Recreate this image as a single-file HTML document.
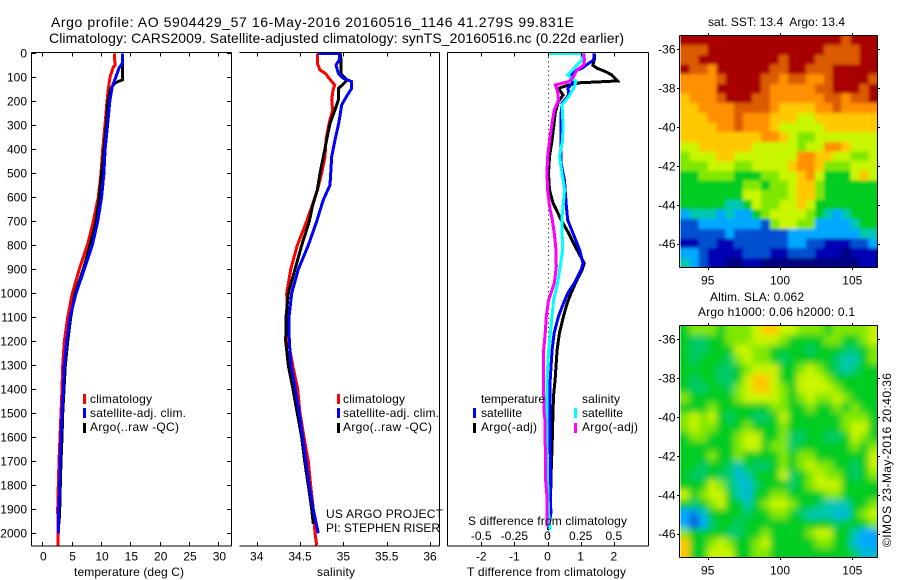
<!DOCTYPE html>
<html>
<head>
<meta charset="utf-8">
<title>Argo profile 5904429_57</title>
<style>
html,body{margin:0;padding:0;background:#fff;}
svg{display:block;}
text{font-family:"Liberation Sans",sans-serif;font-size:12px;fill:#000;}
.t{font-size:14px;}
</style>
</head>
<body>
<svg id="chart" xmlns="http://www.w3.org/2000/svg" width="900" height="580" viewBox="0 0 900 580">
<defs>
<clipPath id="clip-sst"><rect x="680.5" y="35.5" width="197" height="232"/></clipPath>
<clipPath id="clip-sla"><rect x="680.5" y="325.5" width="197" height="232"/></clipPath>
<filter id="soft-sst" filterUnits="userSpaceOnUse" x="640" y="0" width="260" height="300"><feGaussianBlur stdDeviation="1.6"/></filter>
<filter id="soft-sla" filterUnits="userSpaceOnUse" x="640" y="290" width="260" height="290"><feGaussianBlur stdDeviation="3.5"/></filter>
</defs>
<rect x="0" y="0" width="900" height="580" fill="#fff"/>
<g id="maps"></g>
<g id="curves"></g>
<g id="axes"></g>

<text class="t" x="51" y="27" textLength="523">Argo profile: AO 5904429_57 16-May-2016 20160516_1146 41.279S 99.831E</text>
<text class="t" x="49" y="43" textLength="575">Climatology: CARS2009. Satellite-adjusted climatology: synTS_20160516.nc (0.22d earlier)</text>

<text x="74" y="576" textLength="110">temperature (deg C)</text>
<text x="317" y="576" textLength="38">salinity</text>
<text x="467" y="576" textLength="159">T difference from climatology</text>
<text x="468" y="525" textLength="159">S difference from climatology</text>

<rect x="83" y="394" width="3" height="10" fill="#f00"/>
<text x="90" y="403" textLength="62">climatology</text>
<rect x="83" y="408" width="3" height="10" fill="#00f"/>
<text x="90" y="417" textLength="96">satellite-adj. clim.</text>
<rect x="83" y="423" width="3" height="10" fill="#000"/>
<text x="90" y="431" textLength="89">Argo(..raw -QC)</text>

<rect x="337" y="394" width="3" height="10" fill="#f00"/>
<text x="343" y="403" textLength="62">climatology</text>
<rect x="337" y="408" width="3" height="10" fill="#00f"/>
<text x="343" y="417" textLength="96">satellite-adj. clim.</text>
<rect x="337" y="423" width="3" height="10" fill="#000"/>
<text x="343" y="431" textLength="89">Argo(..raw -QC)</text>

<text x="326" y="518" textLength="117">US ARGO PROJECT</text>
<text x="326" y="532" textLength="114">PI: STEPHEN RISER</text>

<text x="481" y="403" textLength="64">temperature</text>
<text x="582" y="403" textLength="38">salinity</text>
<rect x="473" y="408" width="3" height="10" fill="#00f"/>
<text x="481" y="417" textLength="41">satellite</text>
<rect x="473" y="423" width="3" height="10" fill="#000"/>
<text x="481" y="431" textLength="56">Argo(-adj)</text>
<rect x="574" y="408" width="3" height="10" fill="#0ff"/>
<text x="582" y="417" textLength="41">satellite</text>
<rect x="574" y="423" width="3" height="10" fill="#f0f"/>
<text x="582" y="431" textLength="56">Argo(-adj)</text>

<text x="708" y="26" textLength="137">sat. SST: 13.4&#160; Argo: 13.4</text>
<text x="710" y="301" textLength="94">Altim. SLA: 0.062</text>
<text x="698" y="316" textLength="157">Argo h1000: 0.06 h2000: 0.1</text>
<text transform="translate(891,547) rotate(-90)" x="0" y="0" textLength="174">©IMOS 23-May-2016 20:40:36</text>
</svg>

<script>
// ---- profile data (dbar, deg C, PSU) ----
const climTempDepth = [0,50,60,100,150,200,300,400,500,600,700,800,900,1000,1100,1200,1300,1400,1500,1600,1700,1800,1900,2000,2050];
const climTemp = [12.27,12.38,12.05,11.53,11.24,11.02,10.68,10.29,10.0,9.54,8.69,7.67,6.3,5.11,4.33,3.75,3.48,3.36,3.19,3.02,2.85,2.73,2.62,2.67,2.67];
const satTempDepth = [0,40,60,100,140,200,300,400,500,600,700,800,900,1000,1100,1200,1300,1400,1500,1600,1700,1800,1900,2000];
const satTemp = [13.7,13.7,13.1,12.5,11.9,11.5,11.1,10.7,10.5,10.1,9.44,8.52,7.16,5.74,4.72,4.16,3.75,3.58,3.36,3.19,3.02,2.96,2.79,2.73];
const argoTempDepth = [0,110,118,125,150,200,300,400,500,600,700,800,900,1000,1100,1200,1300,1400,1500,1600,1700,1800,1900,1960];
const argoTemp = [13.7,13.7,12.9,12.3,11.6,11.2,10.9,10.5,10.1,9.71,9.15,8.13,6.98,5.57,4.84,4.33,3.92,3.7,3.48,3.36,3.19,3.07,2.96,2.85];

const climSalDepth = [0,42,70,83,111,132,153,195,236,293,361,431,500,570,640,700,800,900,1000,1100,1200,1300,1400,1500,1600,1700,1800,1900,2000,2050];
const climSal = [34.70,34.70,34.73,34.79,34.85,34.90,34.88,34.865,34.877,34.834,34.80,34.788,34.75,34.70,34.635,34.577,34.468,34.392,34.346,34.353,34.365,34.415,34.473,34.50,34.546,34.595,34.623,34.653,34.673,34.692];
const satSalDepth = [0,1,28,49,83,104,118,146,174,215,292,361,431,500,549,611,700,800,900,1000,1100,1200,1300,1400,1500,1600,1700,1800,1900,2000];
const satSal = [34.70,34.953,34.953,34.915,34.941,34.999,35.096,35.096,35.045,34.981,34.946,34.903,34.865,34.854,34.846,34.768,34.692,34.595,34.48,34.404,34.373,34.376,34.396,34.448,34.492,34.531,34.569,34.607,34.653,34.711];
const argoSalDepth = [0,86,111,125,146,195,236,292,361,431,500,570,639,700,800,900,1000,1100,1200,1300,1400,1500,1600,1700,1800,1900,1960];
const argoSal = [34.969,34.973,35.045,35.007,34.946,34.941,34.903,34.846,34.808,34.768,34.73,34.699,34.642,34.607,34.519,34.442,34.365,34.338,34.335,34.365,34.419,34.468,34.519,34.554,34.595,34.635,34.653];

const diffTArgoDepth = [0,21,50,62,76,90,115,120,122,132,146,174,201,250,292,361,431,500,569,625,653,694,750,819,875,903,944,1000,1042,1097,1167,1236,1361,1430,1569,1639,1750,1917,1986];
const diffTArgo = [1.42,1.42,1.37,1.49,1.74,1.94,2.11,1.44,1.01,0.64,0.33,0.47,0.33,0.23,0.20,0.14,0.06,0.03,0.06,0.17,0.27,0.41,0.64,0.89,1.11,1.04,0.89,0.71,0.59,0.48,0.36,0.29,0.23,0.18,0.15,0.14,0.11,0.08,0.03];
const diffTSatDepth = [0,28,42,62,76,90,111,125,146,174,208,250,361,458,528,639,694,750,819,875,903,958,1000,1042,1097,1167,1236,1361,1639,1917,1986];
const diffTSat = [1.41,1.39,1.24,1.04,0.79,0.69,0.79,0.74,0.62,0.64,0.44,0.41,0.41,0.41,0.51,0.57,0.61,0.77,0.97,1.07,1.01,0.81,0.61,0.48,0.33,0.20,0.14,0.08,0.08,0.10,0.03];
const diffSSatDepth = [0,1,28,49,69,90,118,146,181,215,292,361,431,500,569,639,694,819,889,958,1028,1167,1236,1361,1639,1778,1917,1986];
const diffSSat = [0.004,0.26,0.26,0.222,0.192,0.151,0.215,0.197,0.159,0.109,0.117,0.114,0.091,0.109,0.129,0.117,0.108,0.114,0.096,0.076,0.046,0.021,0.008,-0.004,-0.004,0.001,0.008,0.021];
const diffSArgoDepth = [0,28,49,69,97,118,132,153,195,236,292,361,431,500,569,639,694,750,819,889,958,1028,1097,1167,1236,1361,1486,1528,1778,1847,1972];
const diffSArgo = [0.272,0.279,0.272,0.222,0.197,0.159,0.059,0.075,0.084,0.051,0.034,0.016,0.001,-0.004,0.001,0.016,0.036,0.051,0.064,0.066,0.051,0.008,-0.009,-0.017,-0.029,-0.029,-0.028,-0.019,-0.014,-0.004,-0.004];

// ---- tick labels ----
const depthTicks = [0,100,200,300,400,500,600,700,800,900,1000,1100,1200,1300,1400,1500,1600,1700,1800,1900,2000];
const tempTicks = [0,5,10,15,20,25,30];
const salTicks = [34,34.5,35,35.5,36];
const salTickLabels = ["34","34.5","35","35.5","36"];
const diffTTicks = [-2,-1,0,1,2];
const diffSTicks = [-0.5,-0.25,0,0.25,0.5];
const diffSTickLabels = ["-0.5","-0.25","0","0.25","0.5"];
const latTicks = [-36,-38,-40,-42,-44,-46];
const lonTicks = [95,100,105];

// ---- map grids, north to south, 93.3E to 106.6E (colour level per cell) ----
const sstGrid = [
[11,11,11,11,11,11,11,11,11,11,11,11,11,11,11,11,11,11,10,11,11,11],
[10,10,10,11,11,11,11,11,11,11,11,11,11,11,11,11,10,10,10,10,11,11],
[10,10,11,11,11,11,11,11,11,11,11,10,11,11,11,10,10,10,10,10,11,11],
[11,10,10,9,11,11,11,11,11,11,10,10,11,11,10,10,10,11,11,11,11,11],
[9,9,9,9,10,11,11,11,11,10,10,9,10,10,9,9,10,11,11,11,11,10],
[9,9,9,9,11,11,11,11,11,10,9,9,9,9,9,10,10,11,11,11,10,11],
[8,9,9,9,10,11,11,11,10,10,9,9,9,9,9,9,10,10,9,10,10,11],
[8,8,9,9,9,9,10,10,10,10,9,8,8,8,8,9,9,10,9,9,9,9],
[8,8,8,9,9,9,10,9,9,9,8,8,8,7,7,8,8,8,8,8,8,8],
[8,8,8,8,9,9,10,9,9,9,8,7,7,7,7,7,8,8,8,8,8,8],
[8,8,8,8,8,8,8,8,8,9,9,8,7,6,6,7,7,7,7,7,7,7],
[7,7,8,8,8,8,8,8,7,7,7,7,7,6,7,7,9,9,8,7,7,7],
[6,7,7,7,8,8,7,7,7,7,7,7,7,9,9,8,8,7,7,6,6,7],
[6,6,6,7,7,7,6,6,7,7,7,7,8,9,9,8,6,6,6,7,7,7],
[5,5,6,6,6,6,5,5,5,6,6,7,7,8,9,7,5,5,5,7,8,7],
[5,5,5,5,5,5,5,6,6,5,6,6,7,8,8,6,5,5,5,5,5,5],
[5,5,5,5,5,5,5,7,7,6,6,6,7,8,8,6,5,5,5,5,5,5],
[5,5,5,5,5,4,4,5,7,6,6,7,7,8,7,5,5,5,5,5,5,5],
[3,4,4,4,3,4,3,3,5,6,7,7,7,7,6,5,4,3,4,5,5,5],
[2,2,3,3,3,3,3,3,3,2,6,7,7,6,6,3,3,3,3,4,5,5],
[2,2,2,2,2,3,2,2,2,2,2,2,3,3,3,3,3,3,3,3,4,4],
[1,1,2,2,1,1,2,2,2,2,2,2,3,3,2,2,1,1,1,2,2,3],
[3,3,2,1,1,1,1,2,2,2,1,1,2,2,2,1,1,1,0,1,1,1],
[4,3,2,1,1,0,0,1,1,0,0,0,0,0,0,0,0,0,0,0,1,1]
];
const slaGrid = [
[5,6,6,6,5,6,6,6,7,8,8,7,7,6,6,6,5,6,6,6,6,7],
[5,4.5,4.5,5,5,6,6,6,7,7,7,6,5,5,5,5,6,6,5,5,6,7],
[5,4.5,4.5,5,5,5,7,7,6,6,5,5,5,5,4.5,5,5,5,4.5,4.5,5,6],
[5,4.5,5,5,5,4.5,6,7,6,6,5,4.5,5,5,5,5,5,4.5,4,4,5,6],
[5,5,5,5,4.5,4.5,5,6,7,7,7,5,5,6,7,6,5,4.5,4,4.5,5,5],
[5,4.5,5,5,4.5,4.5,5,7,8,8,7,5,5,7,7,7,6,5,5,5,5,5],
[5,4.5,4.5,5,5,4.5,6,7,8,8,7,6,5,7,7,7,7,6,5,5,5,5],
[6,5,5,5,5,5,6,7,7,7,7,6,5,6,7,6,6,7,6,5,5,5],
[5,5,5,6,5,5,5,5,5,5,6,6,5,5,6,5,5,6,5,6,5,5],
[6,7,6,7,5,4.5,5,5,4.5,4.5,5,7,5,5,5,5,5,5,6,6,6,5],
[6,7,6,6,5,5,5,6,5,5,5,6,5,5,5,5,5,5,6,7,7,5],
[5,6,6,5,5,5,6,7,7,5,5,6,4.5,4.5,5,5,4.5,4.5,5,7,6,5],
[5,5,5,5,5,5,6,7,7,5,6,6,4.5,5,5,5,5,5,5,6,5,6],
[5,5,5,6,5,5,6,5,5,5,5,6,5,6,6,5,5,5,5,5,5,7],
[5,5,4.5,5,5,4.5,4,5,4.5,4.5,5,6,5,6,7,6,6,5,5,4.5,5,7],
[5,4.5,4.5,5,4.5,4.5,3.5,4,5,5,5,7,4.5,5,6,7,6,6,5,4.5,5,6],
[5,5,5,7,6,4.5,4,3.5,4.5,5,5,5,4.5,5,6,7,7,7,5,5,5,5],
[7,5,6,7,7,5,4,3.5,5,5,6,6,5,5,5,5,6,6,5,5,5,5],
[5,4.5,5,6,7,5,5,4,5,6,7,7,6,5,5,4.5,4,4,4,5,5,6],
[3,2.5,3.5,5,5,5,5,4.5,5,5,6,6,5,4.5,4,4,4,3.5,3.5,5,6,7],
[3,2,3,4.5,5,5,4.5,5,5,5,5,5,5,5,5,5,5,4.5,5,5,5,6],
[6,5,5,5,5,4.5,4.5,5,5,6,5,5,5,5,6,7,7,5,5,4,3,3],
[8,5,5,6,7,6,5,5,6,7,5,5,5,5,5,6,6,5,5,3.5,3,3],
[8,5,5,7,7,7,5,5,6,6,5,5,5,5,5,5,5,5,5,4.5,3.5,3.5]
];

// ---- axis functions ----
const SVGNS = "http://www.w3.org/2000/svg";
function yP(d){ return 53.3 + 0.24*d; }
function xT(v){ return 42.3 + 5.87*v; }
function xS(v){ return 256.7 + 86.67*(v-34); }
function xDT(v){ return 547.5 + 33.15*v; }
function xDS(v){ return 547.5 + 132.6*v; }
function mapLon(v){ return 707.7 + 14.46*(v-95); }
function mapLat(v,top){ return top + 13.9 - 19.45*(v+36); }

function make(tag, attrs, parent){
  const el = document.createElementNS(SVGNS, tag);
  for (const k in attrs) el.setAttribute(k, attrs[k]);
  parent.appendChild(el);
  return el;
}
const curves = document.getElementById('curves');
const axes = document.getElementById('axes');
const maps = document.getElementById('maps');

function hline(x1,x2,y,name){
  const el = make('line',{x1:x1,x2:x2,y1:y,y2:y,stroke:'#000','stroke-width':1,'shape-rendering':'crispEdges'},axes);
  
  
}
function vline(x,y1,y2,name){
  const el = make('line',{x1:x,x2:x,y1:y1,y2:y2,stroke:'#000','stroke-width':1,'shape-rendering':'crispEdges'},axes);
  
  
}
function label(x,y,txt,anchor,name){
  const el = make('text',{x:x,y:y,'text-anchor':anchor},axes);
  el.textContent = txt;
  
  
}
function drawCurve(depths, values, xFn, color, name){
  const pts = depths.map(function(d,i){ return xFn(values[i]).toFixed(1)+','+yP(d).toFixed(1); }).join(' ');
  const el = make('polyline',{points:pts,fill:'none',stroke:color,'stroke-width':3,'stroke-linejoin':'miter','shape-rendering':'crispEdges'},curves);
  
  
}

// ---- frames ----
const TOP = 52.5, BOT = 546;
hline(31.5,231.5,TOP,'temperature-frame-top');
hline(31.5,231.5,BOT,'temperature-frame-bottom');
vline(31.5,TOP,BOT,'temperature-frame-left');
vline(231.5,TOP,BOT,'temperature-frame-right');
hline(239.5,439.5,TOP,'salinity-frame-top');
hline(239.5,439.5,BOT,'salinity-frame-bottom');
vline(439.5,TOP,BOT,'salinity-frame-right');
hline(447.5,648.5,TOP,'difference-frame-top');
hline(447.5,648.5,BOT,'difference-frame-bottom');
vline(447.5,TOP,BOT,'difference-frame-left');
vline(648.5,TOP,BOT,'difference-frame-right');

// ---- depth ticks ----
depthTicks.forEach(function(d){
  const y = Math.round(yP(d))+0.5;
  hline(31.5,36,y,'depth-tick-left');
  hline(227,231.5,y,'depth-tick-right');
  label(27,yP(d)+4.3,String(d),'end','depth-tick-label');
});
// ---- x ticks ----
tempTicks.forEach(function(v){
  const x = Math.round(xT(v))+0.5;
  vline(x,TOP,TOP+4,'temperature-tick-top');
  vline(x,BOT-4,BOT,'temperature-tick-bottom');
  label(xT(v)+1,560.5,String(v),'middle','temperature-tick-label');
});
salTicks.forEach(function(v,i){
  const x = Math.round(xS(v))+0.5;
  vline(x,TOP,TOP+4,'salinity-tick-top');
  vline(x,BOT-4,BOT,'salinity-tick-bottom');
  label(xS(v),560.5,salTickLabels[i],'middle','salinity-tick-label');
});
diffTTicks.forEach(function(v){
  const x = Math.round(xDT(v))+0.5;
  vline(x,TOP,TOP+4,'t-difference-tick-top');
  vline(x,BOT-4,BOT,'t-difference-tick-bottom');
  label(xDT(v),560.5,String(v),'middle','t-difference-tick-label');
});
diffSTicks.forEach(function(v,i){
  label(xDS(v),540,diffSTickLabels[i],'middle','s-difference-tick-label');
});

// ---- zero line ----
const zeroLine = make('line',{x1:Math.round(xDT(0))+0.5,x2:Math.round(xDT(0))+0.5,y1:TOP,y2:BOT,stroke:'#000','stroke-width':1,'stroke-dasharray':'1 3.5','shape-rendering':'crispEdges'},curves);



// ---- curves ----
drawCurve(climTempDepth,climTemp,xT,'#f00','temperature-climatology-line');
drawCurve(argoTempDepth,argoTemp,xT,'#000','temperature-argo-line');
drawCurve(satTempDepth,satTemp,xT,'#00f','temperature-satellite-line');
drawCurve(climSalDepth,climSal,xS,'#f00','salinity-climatology-line');
drawCurve(argoSalDepth,argoSal,xS,'#000','salinity-argo-line');
drawCurve(satSalDepth,satSal,xS,'#00f','salinity-satellite-line');
drawCurve(diffTArgoDepth,diffTArgo,xDT,'#000','t-difference-argo-line');
drawCurve(diffTSatDepth,diffTSat,xDT,'#00f','t-difference-satellite-line');
drawCurve(diffSSatDepth,diffSSat,xDS,'#0ff','s-difference-satellite-line');
drawCurve(diffSArgoDepth,diffSArgo,xDS,'#f0f','s-difference-argo-line');

// ---- maps ----
function levelColor(v){
  const stops = [[0,0,128],[0,0,180],[0,80,208],[0,168,255],[0,200,176],[0,204,32],[128,232,0],[200,245,0],[255,200,0],[255,144,0],[220,90,0],[168,0,0]];
  const i = Math.min(Math.floor(v),stops.length-2);
  const f = v-i;
  const c = [0,1,2].map(function(k){ return Math.round(stops[i][k]+(stops[i+1][k]-stops[i][k])*f); });
  return 'rgb('+c.join(',')+')';
}
function drawMap(grid, top, name, clipId, filterId){
  const left = 680.5, right = 877.5, h = 232, pad = 14;
  const nr = grid.length;
  const clipG = make('g',{'clip-path':'url(#'+clipId+')'},maps);
  
  
  const softG = make('g',{filter:'url(#'+filterId+')'},clipG);
  
  
  grid.forEach(function(row,r){
    const nc = row.length;
    row.forEach(function(v,c){
      const x0 = left+(right-left)*c/nc - (c===0?pad:0);
      const x1 = left+(right-left)*(c+1)/nc + (c===nc-1?pad:0);
      const y0 = top+h*r/nr - (r===0?pad:0);
      const y1 = top+h*(r+1)/nr + (r===nr-1?pad:0);
      const el = make('rect',{x:x0.toFixed(2),y:y0.toFixed(2),width:(x1-x0).toFixed(2),height:(y1-y0).toFixed(2),fill:levelColor(v),'shape-rendering':'crispEdges'},softG);
      
      
    });
  });
  const bottom = top+h;
  hline(679.5,877.5,top,name+'-frame-top');
  hline(679.5,877.5,bottom,name+'-frame-bottom');
  vline(679.5,top,bottom,name+'-frame-left');
  vline(877.5,top,bottom,name+'-frame-right');
  latTicks.forEach(function(v){
    const y = Math.round(mapLat(v,top))+0.5;
    hline(677,679.5,y,name+'-lat-tick-left');
    hline(877.5,880,y,name+'-lat-tick-right');
    label(675.5,mapLat(v,top)+4.3,String(v),'end',name+'-lat-label');
  });
  lonTicks.forEach(function(v){
    const x = Math.round(mapLon(v))+0.5;
    vline(x,top-2.5,top,name+'-lon-tick-top');
    vline(x,bottom,bottom+2.5,name+'-lon-tick-bottom');
    label(mapLon(v),bottom+17,String(v),'middle',name+'-lon-label');
  });
}
drawMap(sstGrid,35.5,'sst-map','clip-sst','soft-sst');
drawMap(slaGrid,325.5,'sla-map','clip-sla','soft-sla');
</script>
</body>
</html>
